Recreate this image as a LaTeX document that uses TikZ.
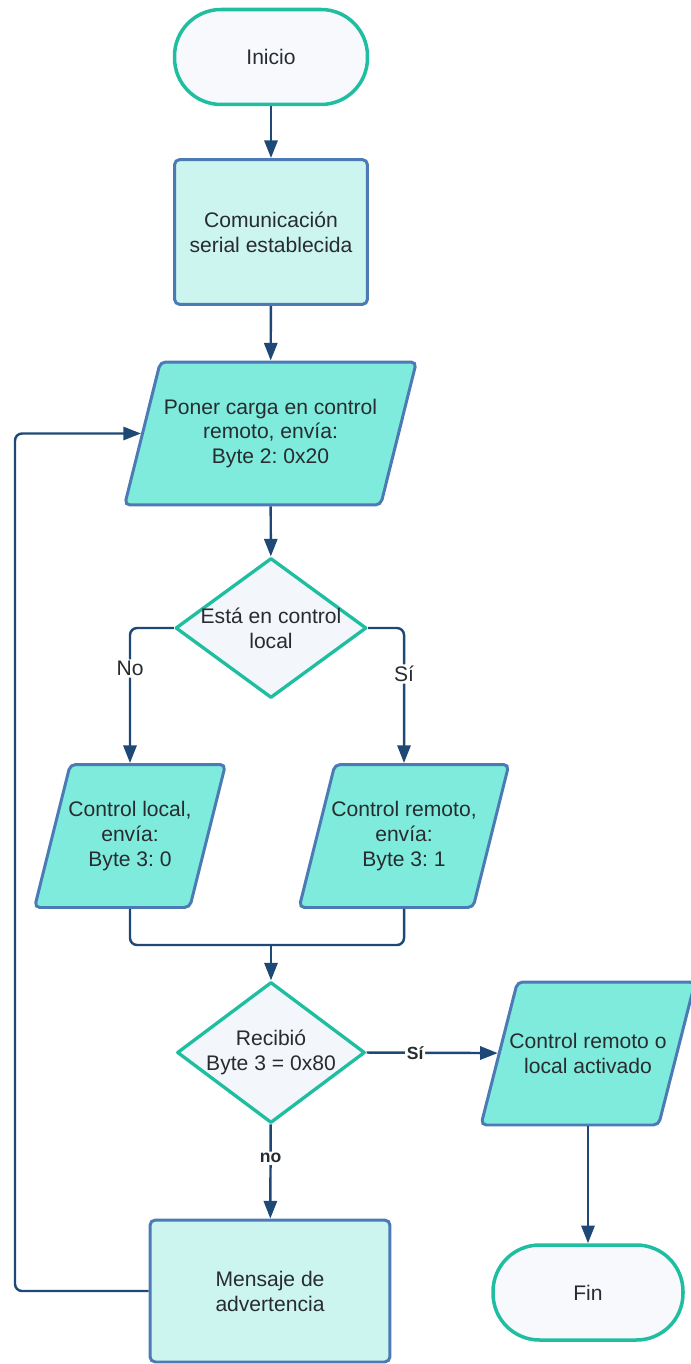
\documentclass[tikz,border=0pt]{standalone}
\usepackage{fontspec}
\setmainfont{Liberation Sans}
\usetikzlibrary{shapes.geometric, arrows.meta}
\frenchspacing

\definecolor{tealline}{RGB}{32,190,160}
\definecolor{termfill}{RGB}{247,249,253}
\definecolor{boxline}{RGB}{76,122,181}
\definecolor{boxfill}{RGB}{204,245,239}
\definecolor{parafill}{RGB}{126,235,220}
\definecolor{diafill}{RGB}{243,247,252}
\definecolor{arrowcol}{RGB}{30,73,118}
\definecolor{textdark}{RGB}{40,44,48}

\begin{document}
\begin{tikzpicture}[x=0.02cm, y=-0.02cm,
    every node/.style={font=\fontsize{12}{14.2}\selectfont, text=textdark, align=center},
    terminal/.style={draw=tealline, line width=2pt, fill=termfill, rectangle,
        rounded corners=0.93cm, minimum width=3.86cm, minimum height=1.9cm},
    process/.style={draw=boxline, line width=1.7pt, fill=boxfill, rectangle,
        rounded corners=3pt},
    iobox/.style={draw=boxline, line width=1.7pt, fill=parafill, trapezium,
        trapezium left angle=65, trapezium right angle=115, trapezium stretches=true,
        rounded corners=3pt, inner sep=2pt},
    decision/.style={draw=tealline, line width=1.9pt, fill=diafill, diamond,
        inner sep=0pt, line join=round},
    flow/.style={draw=arrowcol, line width=1.4pt, rounded corners=4pt,
        -{Triangle[width=7.5pt,length=10pt]}},
    mergeline/.style={draw=arrowcol, line width=1.4pt, rounded corners=4pt},
    answer/.style={fill=white, inner sep=1pt},
    boldanswer/.style={fill=white, inner sep=1pt, font=\fontsize{10}{12}\selectfont\bfseries}
]
    \useasboundingbox (0,0) rectangle (690,1364);

    % Main column
    \node[terminal] (inicio) at (271,57) {Inicio};
    \node[process, minimum width=3.86cm, minimum height=2.9cm] (serial) at (271,232)
        {Comunicación\\serial establecida};
    \node[iobox, minimum width=5.7cm, minimum height=2.86cm] (poner) at (270.5,433.5)
        {Poner carga en control\\remoto, envía:\\Byte 2: 0x20};
    \node[decision, minimum width=3.82cm, minimum height=2.8cm,
        label={[align=center]center:Está en control\\local}] (local) at (271,628) {};

    % Branches
    \node[iobox, inner xsep=-1pt, minimum width=3.8cm, minimum height=2.86cm] (plocal) at (130,836)
        {Control local,\\envía:\\Byte 3: 0};
    \node[iobox, inner xsep=-2pt, minimum width=4.16cm, minimum height=2.86cm] (premoto) at (404,836)
        {Control remoto,\\envía:\\Byte 3: 1};
    \coordinate (merge) at (271,945);

    % Check answer
    \node[decision, minimum width=3.76cm, minimum height=2.82cm,
        label={[align=center]center:Recibió\\Byte 3 = 0x80}] (recibio) at (271,1052.5) {};
    \node[iobox, trapezium left angle=52.5, trapezium right angle=127.5, inner xsep=-4.5pt,
        minimum width=4.16cm, minimum height=2.86cm] (activado) at (588,1053.5)
        {Control remoto o\\local activado};
    \node[terminal, minimum width=3.8cm] (fin) at (588,1292.5) {Fin};
    \node[process, minimum width=4.8cm, minimum height=2.84cm] (aviso) at (270,1291)
        {Mensaje de\\advertencia};
    \coordinate (retorno) at (15,1291);

    % Connectors
    \draw[flow] (inicio) -- (serial);
    \draw[flow] (serial) -- (poner);
    \draw[flow] (poner) -- (local);
    \draw[flow] (local.west) -| (plocal.north) node[answer, pos=0.65] {No};
    \draw[flow] (local.east) -| (premoto.north) node[answer, pos=0.67] {Sí};
    \draw[mergeline] (plocal.south) |- (merge);
    \draw[mergeline] (premoto.south) |- (merge);
    \draw[flow] (merge) -- (recibio);
    \draw[flow] (recibio.east) -- (activado) node[boldanswer, pos=0.37] {Sí};
    \draw[flow] (activado) -- (fin);
    \draw[flow] (recibio) -- (aviso) node[boldanswer, pos=0.36] {no};
    \draw[flow] (aviso.west) -- (retorno) |- (poner);
\end{tikzpicture}
\end{document}
